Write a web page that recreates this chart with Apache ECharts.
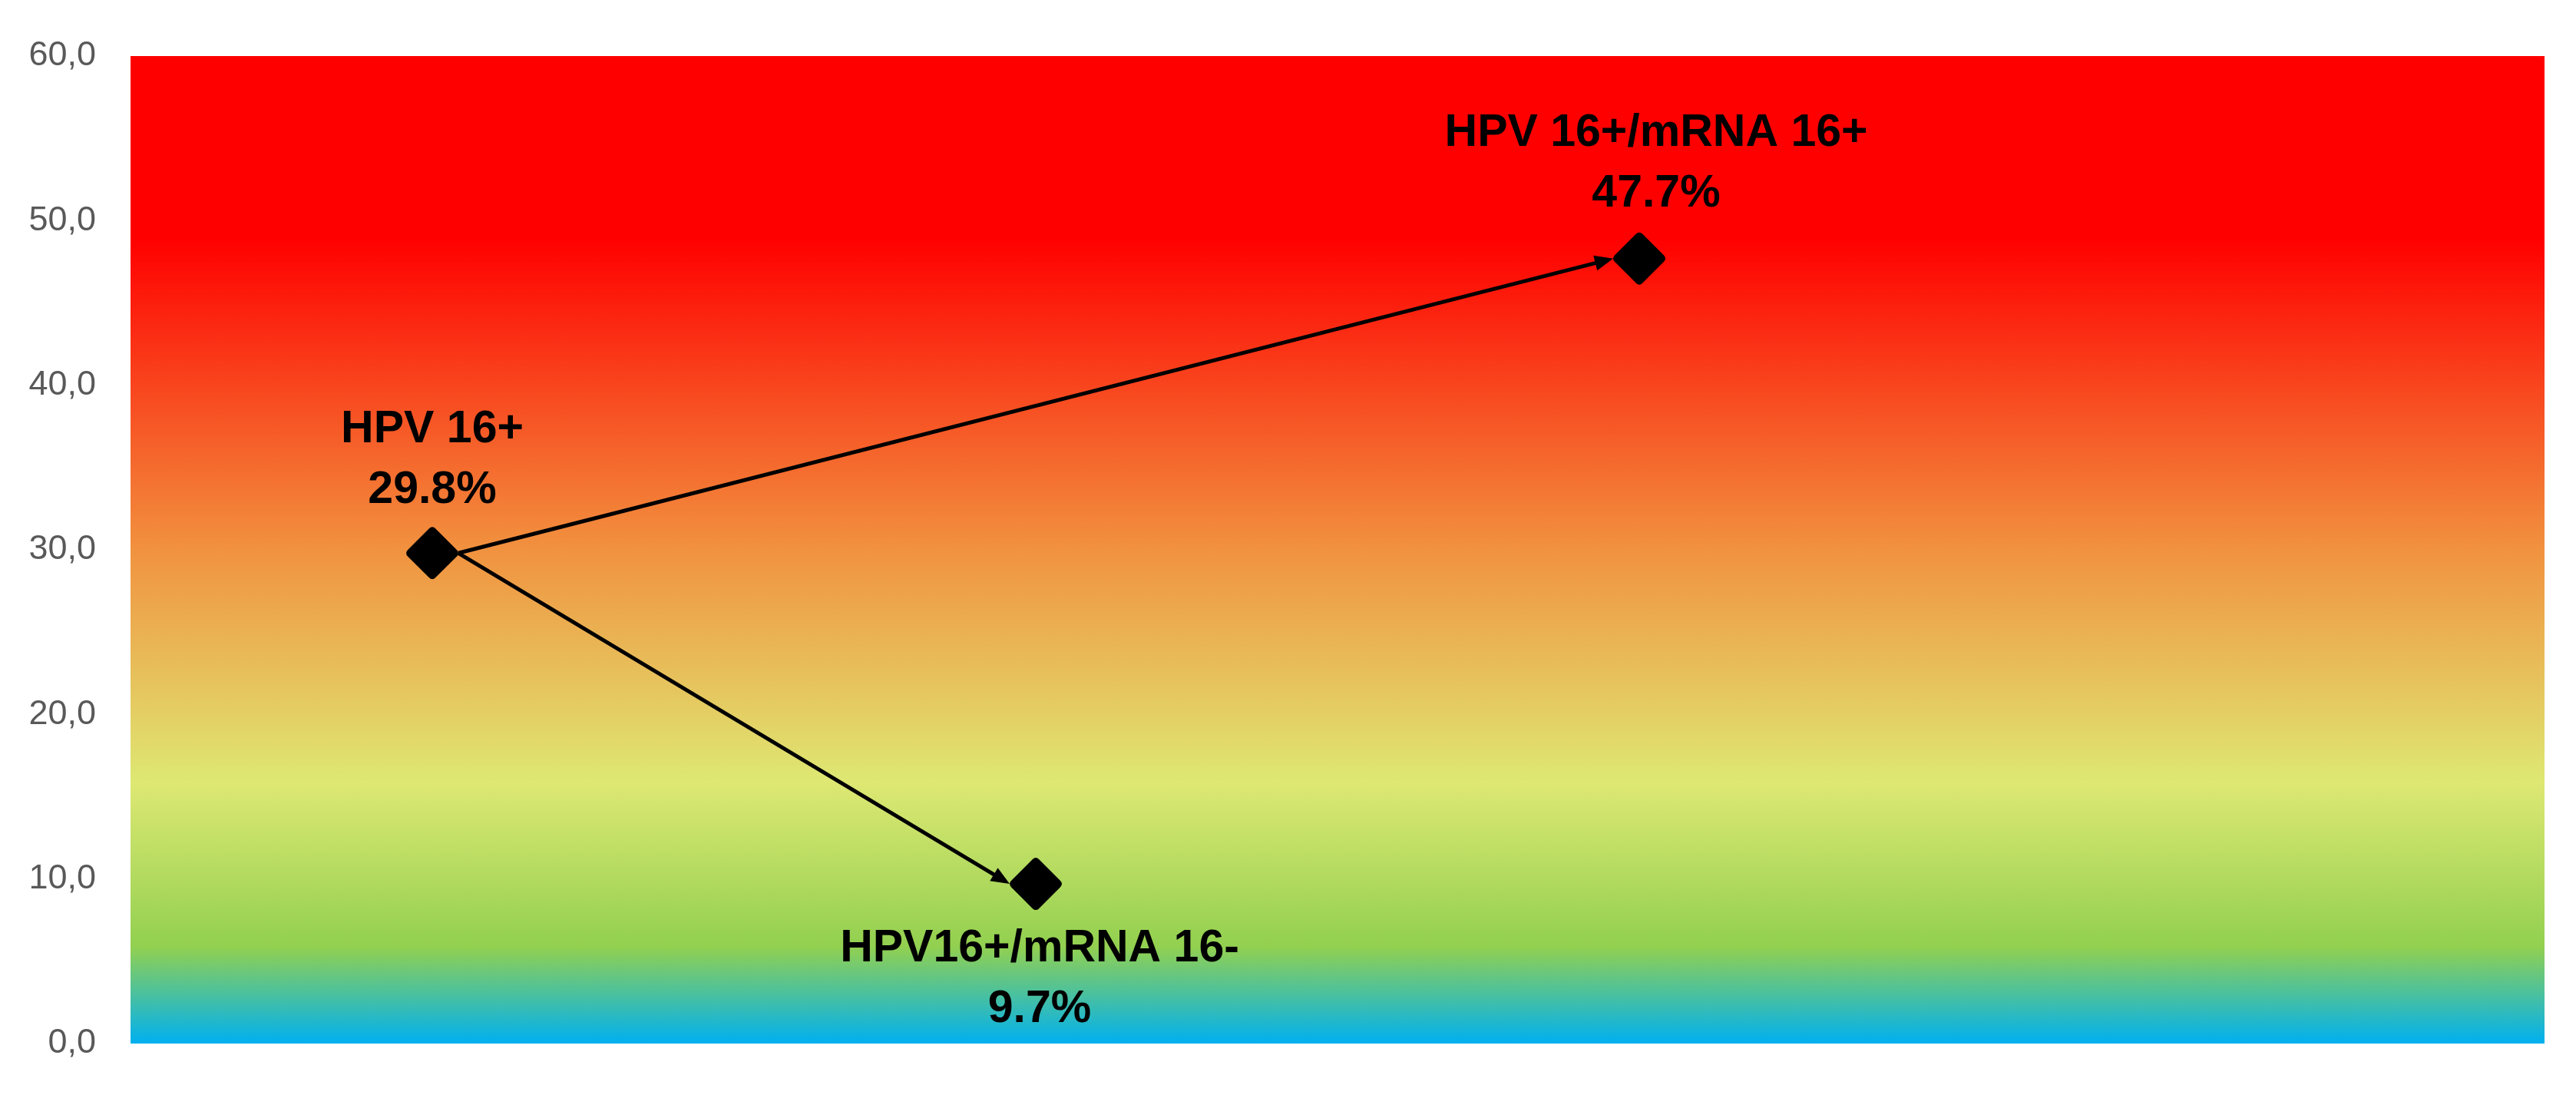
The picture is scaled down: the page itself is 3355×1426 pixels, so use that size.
<!DOCTYPE html>
<html>
<head>
<meta charset="utf-8">
<style>
  html, body { margin: 0; padding: 0; background: #ffffff; }
  #chart { width: 3355px; height: 1426px; }
</style>
<script src="https://cdn.jsdelivr.net/npm/echarts@6/dist/echarts.min.js"></script>
</head>
<body>
<div id="chart"></div>
<script>
// ---- data ----
const names = ['HPV 16+', 'HPV16+/mRNA 16-', 'HPV 16+/mRNA 16+'];
const xPositions = [1, 3, 5];
const values = [29.8, 9.7, 47.7];
const arrows = [[0, 2], [0, 1]]; // from index -> to index
const yMin = 0, yMax = 60, yInterval = 10;

// ---- styling ----
const symbolSize = 68;
const labelPlacement = ['top', 'bottom', 'top'];
const labelOffsets = [[0, 0], [5, 0], [22, 0]];
const labelDistances = [8, 11, 10];
const diamond = 'path://M44,6 Q50,0 56,6 L94,44 Q100,50 94,56 L56,94 Q50,100 44,94 L6,56 Q0,50 6,44 Z';

const chart = echarts.init(document.getElementById('chart'), null, { renderer: 'canvas' });

const scatterData = names.map((n, i) => ({
  name: n,
  value: [xPositions[i], values[i]],
  label: {
    position: labelPlacement[i],
    offset: labelOffsets[i],
    distance: labelDistances[i]
  }
}));

const arrowData = arrows.map(([a, b]) => [xPositions[a], values[a], xPositions[b], values[b]]);

const option = {
  animation: false,
  backgroundColor: '#ffffff',
  grid: {
    left: 170, right: 41, top: 73, bottom: 67,
    show: true,
    borderWidth: 0,
    backgroundColor: {
      type: 'linear', x: 0, y: 0, x2: 0, y2: 1,
      colorStops: [
        { offset: 0, color: '#FF0000' },
        { offset: 0.185, color: '#FF0000' },
        { offset: 0.5, color: '#F1923F' },
        { offset: 0.735, color: '#DEE873' },
        { offset: 0.902, color: '#92D050' },
        { offset: 1, color: '#00B0F0' }
      ]
    }
  },
  xAxis: {
    type: 'value', min: 0, max: 8, show: false
  },
  yAxis: {
    type: 'value', min: yMin, max: yMax, interval: yInterval,
    axisLine: { show: false },
    axisTick: { show: false },
    splitLine: { show: false },
    axisLabel: {
      margin: 45,
      color: '#595959',
      fontSize: 45,
      fontFamily: 'Liberation Sans',
      formatter: v => v.toFixed(1).replace('.', ',')
    }
  },
  series: [
    {
      type: 'custom',
      z: 2,
      data: arrowData,
      encode: { x: [0, 2], y: [1, 3] },
      renderItem: function (params, api) {
        const p0 = api.coord([api.value(0), api.value(1)]);
        const p1 = api.coord([api.value(2), api.value(3)]);
        const sx = p0[0] + symbolSize / 2, sy = p0[1];
        const ex = p1[0] - symbolSize / 2, ey = p1[1];
        const dx = ex - sx, dy = ey - sy;
        const len = Math.sqrt(dx * dx + dy * dy);
        const ux = dx / len, uy = dy / len;
        const L = 24, W = 10;
        const bx = ex - ux * L, by = ey - uy * L;
        const nx = -uy, ny = ux;
        return {
          type: 'group',
          children: [
            { type: 'line', shape: { x1: sx, y1: sy, x2: bx + ux * 3, y2: by + uy * 3 },
              style: { stroke: '#000', lineWidth: 5 } },
            { type: 'polygon', shape: { points: [[ex, ey], [bx + nx * W, by + ny * W], [bx - nx * W, by - ny * W]] },
              style: { fill: '#000' } }
          ]
        };
      }
    },
    {
      type: 'scatter',
      z: 3,
      symbol: diamond,
      symbolSize: symbolSize,
      itemStyle: { color: '#000000', opacity: 1 },
      data: scatterData,
      label: {
        show: true,
        color: '#000000',
        opacity: 1,
        fontSize: 59,
        fontWeight: 'bold',
        fontFamily: 'Liberation Sans',
        lineHeight: 79,
        align: 'center',
        formatter: p => p.name + '\n' + p.value[1].toFixed(1) + '%'
      }
    }
  ]
};

chart.setOption(option);
</script>
</body>
</html>
